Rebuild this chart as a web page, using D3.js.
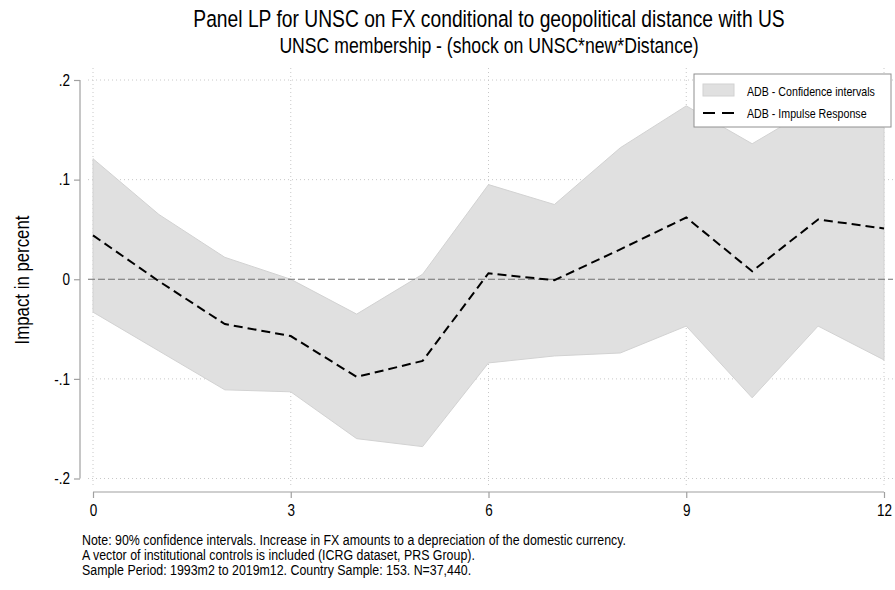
<!DOCTYPE html>
<html>
<head>
<meta charset="utf-8">
<script src="https://cdn.jsdelivr.net/npm/d3@7"></script>
<style>
  body { margin: 0; background: #fff; }
  svg text { font-family: "Liberation Sans", Arial, sans-serif; fill: #000; }
</style>
</head>
<body>
<div id="chart"></div>
<script>
// chart data
var steps = [0, 1, 2, 3, 4, 5, 6, 7, 8, 9, 10, 11, 12];
var irf   = [0.044, -0.002, -0.045, -0.057, -0.098, -0.082, 0.006, -0.001, 0.030, 0.062, 0.008, 0.060, 0.051];
var upper = [0.121, 0.065, 0.022, 0.000, -0.035, 0.005, 0.095, 0.075, 0.132, 0.174, 0.136, 0.175, 0.185];
var lower = [-0.033, -0.072, -0.111, -0.113, -0.160, -0.168, -0.084, -0.077, -0.074, -0.047, -0.119, -0.047, -0.081];
var xTicks = [0, 3, 6, 9, 12];
var yTicks = [-0.2, -0.1, 0, 0.1, 0.2];
var legendLabels = ["ADB - Confidence intervals", "ADB - Impulse Response"];
var noteLines = [
  "Note: 90% confidence intervals. Increase in FX amounts to a depreciation of the domestic currency.",
  "A vector of institutional controls is included (ICRG dataset, PRS Group).",
  "Sample Period: 1993m2 to 2019m12. Country Sample: 153. N=37,440."
];

var width = 895;
var height = 590;
// narrow look of the original font (no narrow face installed)
var squeeze = 0.82;

var svg = d3.select("#chart")
    .append("svg")
    .attr("width", width)
    .attr("height", height);

// helper: text squeezed horizontally around its anchor point
function narrowText(parent, x, y, size, k, anchor, str) {
    return parent.append("text")
        .attr("transform", "translate(" + x + "," + y + ") scale(" + k + ",1)")
        .attr("text-anchor", anchor)
        .style("font-size", size + "px")
        .text(str);
}

// scales
var xScale = d3.scaleLinear().domain([0, 12]).range([93, 884]);
var yScale = d3.scaleLinear().domain([-0.2, 0.2]).range([478.5, 80]);

// gridlines (dotted)
var grid = svg.append("g").attr("class", "grid");
grid.selectAll("line.hgrid")
    .data(yTicks.filter(function(d) { return d !== 0; }))
    .enter().append("line")
    .attr("x1", 88).attr("x2", 893)
    .attr("y1", function(d) { return yScale(d); })
    .attr("y2", function(d) { return yScale(d); })
    .attr("stroke", "#c8c8c8")
    .attr("stroke-width", 1)
    .attr("stroke-dasharray", "1,3");

grid.selectAll("line.vgrid")
    .data(xTicks)
    .enter().append("line")
    .attr("x1", function(d) { return xScale(d); })
    .attr("x2", function(d) { return xScale(d); })
    .attr("y1", 68).attr("y2", 488)
    .attr("stroke", "#c8c8c8")
    .attr("stroke-width", 1)
    .attr("stroke-dasharray", "1,3");

// confidence band
var band = d3.area()
    .x(function(d, i) { return xScale(steps[i]); })
    .y0(function(d, i) { return yScale(lower[i]); })
    .y1(function(d, i) { return yScale(upper[i]); });

svg.append("path")
    .datum(steps)
    .attr("d", band)
    .attr("fill", "#e0e0e0")
    .attr("stroke", "#d2d2d2")
    .attr("stroke-width", 1);

// zero line
svg.append("line")
    .attr("x1", 88).attr("x2", 893)
    .attr("y1", yScale(0)).attr("y2", yScale(0))
    .attr("stroke", "#707070")
    .attr("stroke-width", 1.2)
    .attr("stroke-dasharray", "7,3");

// impulse response
var line = d3.line()
    .x(function(d, i) { return xScale(steps[i]); })
    .y(function(d, i) { return yScale(irf[i]); });

svg.append("path")
    .datum(steps)
    .attr("d", line)
    .attr("fill", "none")
    .attr("stroke", "#000")
    .attr("stroke-width", 2)
    .attr("stroke-dasharray", "9,5");

// axes
function fmtY(d) {
    if (d === 0) return "0";
    return d3.format(".1f")(d).replace("0.", ".").replace("\u2212", "-");
}

var yAxis = svg.append("g")
    .attr("transform", "translate(80,0)")
    .call(d3.axisLeft(yScale).tickValues(yTicks).tickFormat(fmtY).tickSize(6).tickPadding(4));

var xAxis = svg.append("g")
    .attr("transform", "translate(0,492)")
    .call(d3.axisBottom(xScale).tickValues(xTicks).tickFormat(d3.format("d")).tickSize(6).tickPadding(6));

[yAxis, xAxis].forEach(function(ax) {
    ax.select(".domain").attr("stroke", "#a0a0a0").attr("stroke-width", 1.2);
    ax.selectAll(".tick line").attr("stroke", "#a0a0a0").attr("stroke-width", 1.2);
    ax.selectAll(".tick text")
        .style("font-family", "'Liberation Sans', Arial, sans-serif")
        .style("font-size", "16.5px")
        .attr("fill", "#000")
        .attr("transform", "scale(" + squeeze + ",1)");
});
// keep y labels right-aligned next to the ticks after squeezing
yAxis.selectAll(".tick text").attr("x", -10 / squeeze);
// domain without end caps
yAxis.select(".domain").attr("d", "M0," + yScale(0.2) + "V" + yScale(-0.2));
xAxis.select(".domain").attr("d", "M" + xScale(0) + ",0H" + xScale(12));

// titles
narrowText(svg, 489, 27, 23.5, squeeze, "middle",
    "Panel LP for UNSC on FX conditional to geopolitical distance with US");
narrowText(svg, 489, 53, 21.5, squeeze, "middle",
    "UNSC membership - (shock on UNSC*new*Distance)");

svg.append("text")
    .attr("transform", "translate(29,280) rotate(-90) scale(" + squeeze + ",1)")
    .attr("text-anchor", "middle")
    .style("font-size", "20.5px")
    .text("Impact in percent");

// legend
var legend = svg.append("g").attr("class", "legend");
legend.append("rect")
    .attr("x", 694).attr("y", 74)
    .attr("width", 197).attr("height", 53)
    .attr("fill", "#fff")
    .attr("stroke", "#909090")
    .attr("stroke-width", 1);

legend.append("rect")
    .attr("x", 703).attr("y", 84)
    .attr("width", 31).attr("height", 12)
    .attr("fill", "#e0e0e0")
    .attr("stroke", "#d2d2d2");

legend.append("line")
    .attr("x1", 703).attr("x2", 734)
    .attr("y1", 113).attr("y2", 113)
    .attr("stroke", "#000")
    .attr("stroke-width", 2)
    .attr("stroke-dasharray", "12,7");

legendLabels.forEach(function(d, i) {
    narrowText(legend, 747, 95.5 + i * 22, 13, squeeze, "start", d);
});

// note
noteLines.forEach(function(d, i) {
    narrowText(svg, 82, 545 + i * 15, 14.5, 0.855, "start", d);
});
</script>
</body>
</html>
